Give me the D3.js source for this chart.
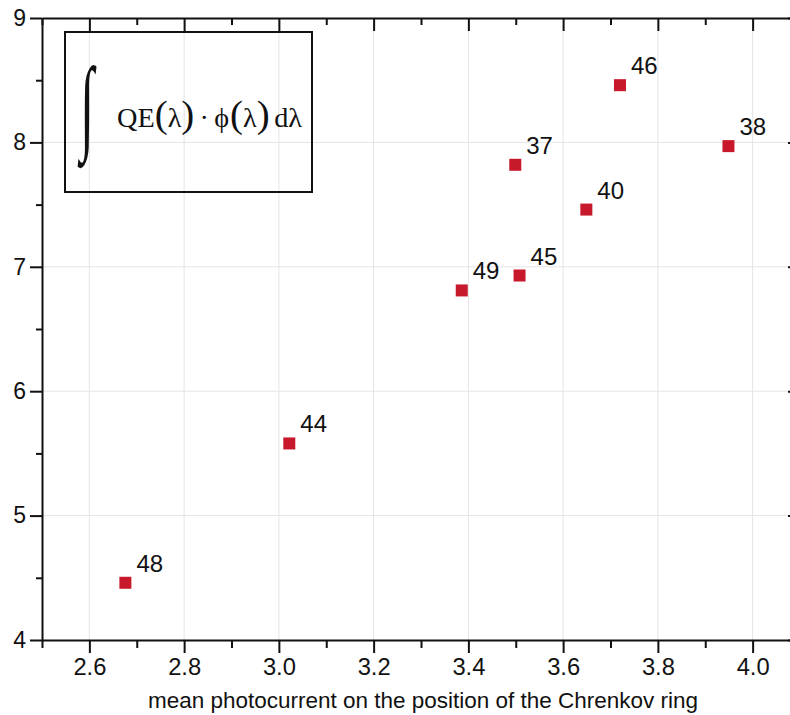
<!DOCTYPE html>
<html>
<head>
<meta charset="utf-8">
<script src="https://cdn.jsdelivr.net/npm/d3@7"></script>
<style>
  html, body { margin: 0; padding: 0; background: #fff; }
  svg { display: block; }
</style>
</head>
<body>
<svg id="chart" width="790" height="715"></svg>
<script>
// ---- data ----
const labels = ["48", "44", "49", "45", "37", "40", "46", "38"];
const photocurrent = [2.676, 3.022, 3.386, 3.508, 3.499, 3.649, 3.720, 3.949];
const qeIntegral = [4.46, 5.58, 6.81, 6.93, 7.82, 7.46, 8.46, 7.97];
const xMajorTicks = [2.6, 2.8, 3.0, 3.2, 3.4, 3.6, 3.8, 4.0];
const xMinorTicks = [2.5, 2.7, 2.9, 3.1, 3.3, 3.5, 3.7, 3.9, 4.1];
const yMajorTicks = [4, 5, 6, 7, 8, 9];
const yMinorTicks = [4.5, 5.5, 6.5, 7.5, 8.5];
const xTitle = "mean photocurrent on the position of the Chrenkov ring";

// ---- layout ----
const svg = d3.select("#chart");
const mLeft = 42, mTop = 18, mRight = 800, mBottom = 640;
const x = d3.scaleLinear().domain([2.5, 4.1]).range([mLeft, mRight]);
const y = d3.scaleLinear().domain([4, 9]).range([mBottom, mTop]);
const sans = "Liberation Sans, Arial, sans-serif";
const serif = "Liberation Serif, Times New Roman, serif";

// grid
const grid = svg.append("g").attr("stroke", "#e4e4e4").attr("stroke-width", 1);
grid.selectAll("line.vx").data(xMajorTicks).join("line")
  .attr("x1", d => x(d)).attr("x2", d => x(d)).attr("y1", mTop).attr("y2", mBottom);
grid.selectAll("line.hy").data(yMajorTicks.filter(d => d > 4 && d < 9)).join("line")
  .attr("y1", d => y(d)).attr("y2", d => y(d)).attr("x1", mLeft).attr("x2", mRight);

// axes
function styleAxis(g) {
  g.select(".domain").attr("stroke", "#111").attr("stroke-width", 2);
  g.selectAll(".tick line").attr("stroke", "#111").attr("stroke-width", 2);
  g.selectAll("text").attr("font-family", sans).attr("fill", "#111");
}
// bottom
const bx = svg.append("g").attr("transform", `translate(0,${mBottom})`)
  .call(d3.axisBottom(x).tickValues(xMajorTicks).tickSize(13).tickSizeOuter(0)
    .tickFormat(d3.format(".1f")).tickPadding(6));
styleAxis(bx);
bx.selectAll("text").attr("font-size", 23).attr("textLength", 33).attr("lengthAdjust", "spacingAndGlyphs");
svg.append("g").attr("transform", `translate(0,${mBottom})`)
  .call(d3.axisBottom(x).tickValues(xMinorTicks).tickSize(8).tickSizeOuter(0).tickFormat(""))
  .call(styleAxis).select(".domain").remove();
// top
const tx = svg.append("g").attr("transform", `translate(0,${mTop})`)
  .call(d3.axisBottom(x).tickValues(xMajorTicks).tickSize(13).tickSizeOuter(0).tickFormat(""));
styleAxis(tx);
svg.append("g").attr("transform", `translate(0,${mTop})`)
  .call(d3.axisBottom(x).tickValues(xMinorTicks).tickSize(7).tickSizeOuter(0).tickFormat(""))
  .call(styleAxis).select(".domain").remove();
// left
const ly = svg.append("g").attr("transform", `translate(${mLeft},0)`)
  .call(d3.axisLeft(y).tickValues(yMajorTicks).tickSize(12).tickSizeOuter(0)
    .tickFormat(d3.format("d")).tickPadding(4));
styleAxis(ly);
ly.selectAll("text").attr("font-size", 23);
svg.append("g").attr("transform", `translate(${mLeft},0)`)
  .call(d3.axisLeft(y).tickValues(yMinorTicks).tickSize(6).tickSizeOuter(0).tickFormat(""))
  .call(styleAxis).select(".domain").remove();
// right
const ry = svg.append("g").attr("transform", `translate(${mRight},0)`)
  .call(d3.axisLeft(y).tickValues(yMajorTicks).tickSize(12).tickSizeOuter(0).tickFormat(""));
styleAxis(ry);

// x title
svg.append("text")
  .attr("x", (mLeft + mRight) / 2 + 2).attr("y", 708)
  .attr("text-anchor", "middle")
  .attr("font-family", sans).attr("font-size", 22).attr("fill", "#111")
  .attr("textLength", 550).attr("lengthAdjust", "spacingAndGlyphs")
  .text(xTitle);

// points
const pts = svg.append("g");
const sq = 12;
pts.selectAll("rect").data(labels).join("rect")
  .attr("x", (d, i) => x(photocurrent[i]) - sq / 2)
  .attr("y", (d, i) => y(qeIntegral[i]) - sq / 2)
  .attr("width", sq).attr("height", sq)
  .attr("fill", "#c8182c");
pts.selectAll("text").data(labels).join("text")
  .attr("x", (d, i) => x(photocurrent[i]) + 11)
  .attr("y", (d, i) => y(qeIntegral[i]) - 11)
  .attr("font-family", sans).attr("font-size", 24).attr("fill", "#111")
  .text(d => d);

// legend box with formula
const lg = svg.append("g");
lg.append("rect").attr("x", 65).attr("y", 32).attr("width", 247).attr("height", 160)
  .attr("fill", "none").attr("stroke", "#111").attr("stroke-width", 2);
lg.append("text").attr("x", 87).attr("y", 105)
  .attr("text-anchor", "middle").attr("dominant-baseline", "central")
  .attr("font-family", serif).attr("font-size", 100).attr("fill", "#111")
  .attr("transform", "translate(87,105) scale(0.5,1.05) translate(-87,-105)")
  .text("∫");
const parts = [
  {t: "QE", s: 32, gap: 0},
  {t: "(", s: 44, gap: 0},
  {t: "λ", s: 32, gap: 0},
  {t: ")", s: 44, gap: 0},
  {t: "·", s: 32, gap: 6},
  {t: "ϕ", s: 32, gap: 6},
  {t: "(", s: 44, gap: 1},
  {t: "λ", s: 32, gap: 0},
  {t: ")", s: 44, gap: 0},
  {t: "d", s: 32, gap: 5},
  {t: "λ", s: 32, gap: 0}
];
const fTexts = lg.selectAll("text.f").data(parts).join("text").attr("class", "f")
  .attr("y", 127).attr("font-family", serif).attr("fill", "#111")
  .attr("font-size", d => d.s).text(d => d.t);
// measure and scale to fit 117..302
let total = 0;
fTexts.each(function(d) { d.w = this.getComputedTextLength(); total += d.w + d.gap; });
const k = Math.min(1, 185 / total);
let cx = 117;
fTexts.each(function(d) {
  cx += d.gap * k;
  d3.select(this).attr("x", cx).attr("font-size", d.s * k);
  cx += d.w * k;
});
</script>
</body>
</html>
